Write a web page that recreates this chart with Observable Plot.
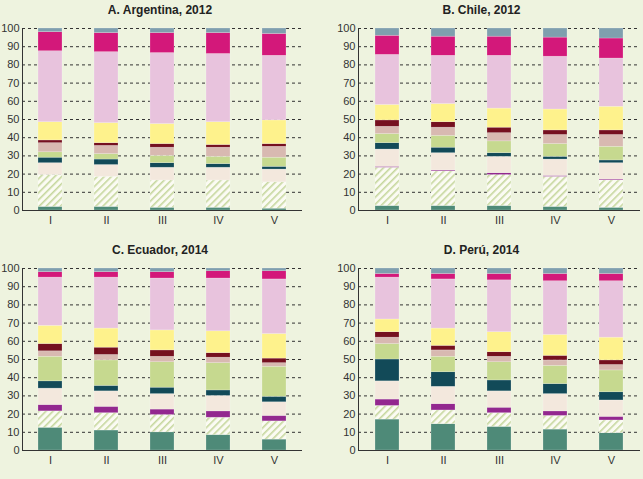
<!DOCTYPE html>
<html><head><meta charset="utf-8">
<script src="https://cdn.jsdelivr.net/npm/d3@7"></script>
<script src="https://cdn.jsdelivr.net/npm/@observablehq/plot@0.6"></script>
<style>
body{margin:0;background:#eef3df;font-family:"Liberation Sans",Arial,sans-serif;}
#wrap{display:grid;grid-template-columns:320px 323px;width:643px;}
.panel{height:240px;position:relative}
.title{text-align:center;font-weight:bold;font-size:12px;color:#222;height:18px;line-height:20px}
</style></head><body>
<svg width="0" height="0" style="position:absolute"><defs>
<pattern id="hatch" width="5" height="5" patternUnits="userSpaceOnUse" patternTransform="rotate(45)">
<rect width="5" height="5" fill="#fbfbf3"/><rect width="1.6" height="5" fill="#c6d79e"/></pattern></defs></svg>
<div id="wrap"></div>
<script>
const quintiles = ["I","II","III","IV","V"];
const segColors = ["#4e8a78","url(#hatch)","#93278f","#f3e8dd","#124a58","#c6d98f","#d8b9b1","#75101f","#fef28c","#e8c3dd","#d3187a","#7f9fae"];
const yTicks = [0,10,20,30,40,50,60,70,80,90,100];
const titles = ["A. Argentina, 2012","B. Chile, 2012","C. Ecuador, 2014","D. Perú, 2014"];
// cumulative upper boundaries of segments 1..11 (segment 12 tops at 100)
const argentina = [
 [2,19.5,19.5,26,29,32,37,38.5,48.5,87.5,98],
 [2,18.5,18.5,25,28,31,35.5,37,48,87,97.5],
 [1.5,16.5,16.5,23.5,26,30,34.5,36.5,47.5,86.5,97.5],
 [1.5,16.5,16.5,23.5,25.5,29.5,34.5,36,48.5,86,97.5],
 [1,15.5,15.5,22.5,24,29,35,36.5,49.5,85,97]];
const chile = [
 [2.5,23.5,24,33.5,37,42,46,49.5,58,85.5,96],
 [2.5,21.5,22,31.5,34.5,41,45.5,48.5,58.5,85,95.5],
 [2.5,19.5,20.5,29.5,31.5,38,42.5,45.5,56,85,95.5],
 [2,18.5,19,28,29.5,36.5,41.5,44,55.5,84.5,95],
 [1.5,16.5,17,26,27.5,35,41.5,44,57,83.5,94.5]];
const ecuador = [
 [12.5,21.5,25,34,38,51.5,54.5,58.5,68.5,95,98],
 [11,20.5,24,32.5,35.5,49.5,52.5,56.5,67,95,98],
 [10,19.5,22.5,31,34.5,48.5,51.5,55,66,94.5,98],
 [8.5,18,21.5,30,33,48,51,53.5,65.5,94.5,98.5],
 [6,16,19,26.5,29.5,46,48,50.5,64,94,98.5]];
const peru = [
 [17,24.5,28,38,50,58.5,62,65,72,95,97],
 [14.5,22,25.5,35,43,51.5,55,57.5,67,94,97],
 [13,20.5,23.5,32.5,38.5,48.5,51.5,54,65,93.5,97],
 [11.5,19,21.5,31,36.5,46.5,49.5,52,63.5,93,97],
 [9.5,16.5,18.5,27.5,32,44,47,49.5,62,93,97]];
const datasets = [argentina, chile, ecuador, peru];
const margins = [[22,18],[38,3],[22,18],[38,3]];
const widths = [320,323,320,323];

datasets.forEach((ds, k) => {
  const rows = [];
  ds.forEach((tops, i) => {
    const bounds = [0, ...tops, 100];
    for (let s = 0; s < 12; s++) {
      if (bounds[s+1] > bounds[s]) rows.push({q: quintiles[i], y1: bounds[s], y2: bounds[s+1], c: segColors[s]});
    }
  });
  const chart = Plot.plot({
    width: widths[k], height: 216,
    marginLeft: margins[k][0], marginRight: margins[k][1], marginTop: 10, marginBottom: 24,
    style: {background: "transparent", fontSize: "11px", color: "#333", fontFamily: "Liberation Sans, Arial, sans-serif"},
    x: {domain: quintiles, paddingInner: 0.58, paddingOuter: 0.29, label: null, tickSize: 0, tickPadding: 6},
    y: {domain: [0,100], ticks: yTicks, label: null, tickSize: 0, tickPadding: 3},
    color: {type: "identity"},
    marks: [
      Plot.ruleY(yTicks.slice(1), {stroke: "#333", strokeDasharray: "3,3", strokeWidth: 1}),
      Plot.rectY(rows, {x: "q", y1: "y1", y2: "y2", fill: "c", stroke: "#ffffff", strokeOpacity: 0.35, strokeWidth: 0.6}),
      Plot.ruleY([0], {stroke: "#333"}),
      Plot.frame({anchor: "left", stroke: "#333"})
    ]
  });
  const div = document.createElement("div");
  div.className = "panel";
  const t = document.createElement("div");
  t.className = "title";
  t.textContent = titles[k];
  div.appendChild(t);
  div.appendChild(chart);
  document.getElementById("wrap").appendChild(div);
});
</script></body></html>
